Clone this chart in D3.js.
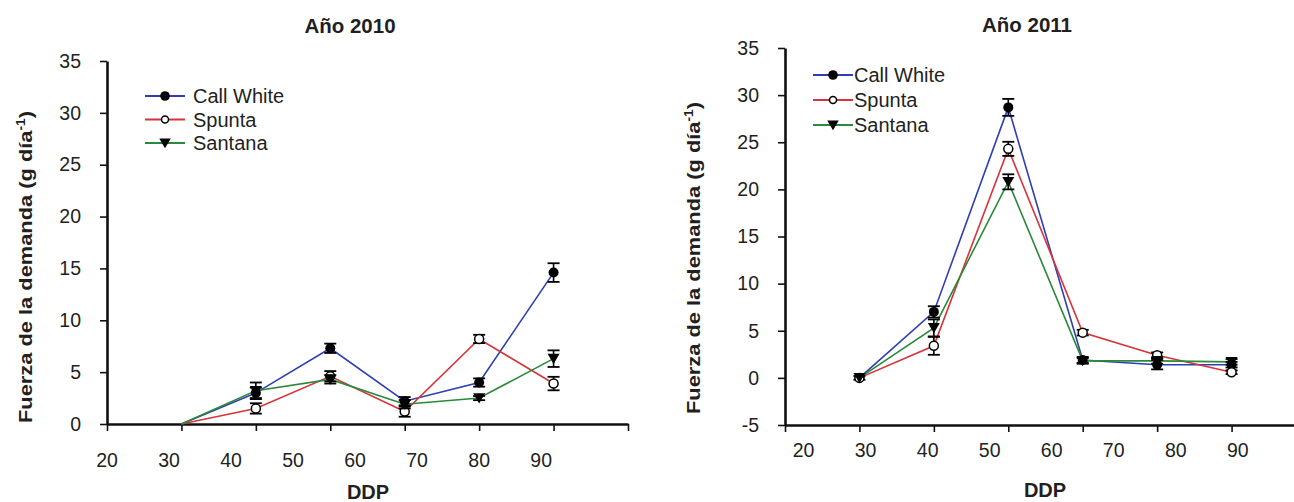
<!DOCTYPE html>
<html>
<head>
<meta charset="utf-8">
<script src="https://cdn.jsdelivr.net/npm/d3@7"></script>
<style>
  body { margin: 0; background: #fff; }
  svg { display: block; font-family: "Liberation Sans", Arial, sans-serif; }
</style>
</head>
<body>
<svg width="1294" height="502"></svg>
<script>
// variedades
const series = ["Call White", "Spunta", "Santana"];
const colors = ["#2f3fb3", "#d8333a", "#2a8a3a"];
const symbols = ["circle", "open", "triangle"];

const xLabels = [20, 30, 40, 50, 60, 70, 80, 90];
const yTicks2010 = [0, 5, 10, 15, 20, 25, 30, 35];
const yTicks2011 = [-5, 0, 5, 10, 15, 20, 25, 30, 35];

// Año 2010
const ddp2010 = [32, 44, 56, 68, 80, 92];
const ticks2010 = [20, 32, 44, 56, 68, 80, 92, 104];
const cw2010 = [0, 3.0, 7.3, 2.2, 4.0, 14.6];
const sp2010 = [0, 1.5, 4.6, 1.2, 8.2, 3.9];
const sa2010 = [0, 3.2, 4.3, 1.9, 2.5, 6.3];
const cwErr2010 = [0, 0.5, 0.45, 0.4, 0.4, 0.9];
const spErr2010 = [0, 0.5, 0.5, 0.5, 0.4, 0.65];
const saErr2010 = [0, 0.8, 0.4, 0.4, 0.2, 0.8];

// Año 2011
const ddp2011 = [29, 41, 53, 65, 77, 89];
const ticks2011 = [17, 29, 41, 53, 65, 77, 89, 101];
const cw2011 = [0, 7.0, 28.7, 1.9, 1.4, 1.4];
const sp2011 = [0, 3.4, 24.3, 4.8, 2.4, 0.6];
const sa2011 = [0, 5.3, 20.8, 1.8, 1.8, 1.7];
const cwErr2011 = [0.2, 0.6, 0.9, 0.3, 0.5, 0.3];
const spErr2011 = [0.1, 0.95, 0.75, 0.3, 0.3, 0.2];
const saErr2011 = [0.1, 0.9, 0.8, 0.3, 0.3, 0.3];

const svg = d3.select("svg");
const ink = "#231f20";

function drawMarker(g, type, x, y, size) {
    if (type == "circle") {
        g.append("circle").attr("cx", x).attr("cy", y).attr("r", size)
            .attr("fill", "#000");
    } else if (type == "open") {
        g.append("circle").attr("cx", x).attr("cy", y).attr("r", size - 0.5)
            .attr("fill", "#fff").attr("stroke", "#000").attr("stroke-width", 1.5);
    } else {
        const s = size * 1.2;
        g.append("path")
            .attr("d", `M${x - s},${y - s * 0.8}L${x + s},${y - s * 0.8}L${x},${y + s * 0.9}Z`)
            .attr("fill", "#000");
    }
}

function drawPanel(cfg) {
    const x = d3.scaleLinear().domain(cfg.xDomain).range(cfg.xRange);
    const y = d3.scaleLinear().domain(cfg.yDomain).range(cfg.yRange);
    const g = svg.append("g");

    // titulo
    g.append("text").attr("x", cfg.titleX).attr("y", cfg.titleY)
        .attr("text-anchor", "middle").attr("font-weight", "bold")
        .attr("font-size", 20.5).attr("fill", ink).text(cfg.title);

    // eje y
    const yAxis = g.append("g")
        .attr("transform", `translate(${cfg.xRange[0]},0)`)
        .call(d3.axisLeft(y).tickValues(cfg.yTicks).tickFormat(d => String(d))
            .tickSize(7).tickSizeOuter(0).tickPadding(19));
    yAxis.select(".domain").attr("stroke", "#111").attr("stroke-width", 2.6);
    yAxis.selectAll(".tick line").attr("stroke", "#111").attr("stroke-width", 1.6);
    yAxis.selectAll(".tick text").attr("font-size", 19.5).attr("fill", ink)
        .attr("font-family", "Liberation Sans, Arial, sans-serif");

    // eje x: marcas en los dias de muestreo, etiquetas aparte
    const xAxis = g.append("g")
        .attr("transform", `translate(0,${cfg.yRange[0]})`)
        .call(d3.axisBottom(x).tickValues(cfg.ticks).tickFormat("").tickSize(7).tickSizeOuter(0));
    xAxis.select(".domain").attr("stroke", "#111").attr("stroke-width", 2.6);
    xAxis.selectAll(".tick line").attr("stroke", "#111").attr("stroke-width", 1.6);

    g.selectAll(".xlab").data(xLabels).join("text")
        .attr("x", d => x(d)).attr("y", cfg.yRange[0] + cfg.xLabelDy)
        .attr("text-anchor", "middle").attr("font-size", 19.5).attr("fill", ink)
        .text(d => d);

    g.append("text").attr("x", cfg.ddpX).attr("y", cfg.ddpY)
        .attr("text-anchor", "middle").attr("font-weight", "bold")
        .attr("font-size", 20).attr("fill", ink).text("DDP");

    // etiqueta del eje y
    const yl = g.append("text")
        .attr("transform", `translate(${cfg.ylabX},${cfg.ylabY}) rotate(-90)`)
        .attr("text-anchor", "middle").attr("font-weight", "bold")
        .attr("font-size", 19).attr("fill", ink)
        .attr("textLength", 312).attr("lengthAdjust", "spacingAndGlyphs");
    yl.append("tspan").text("Fuerza de la demanda (g día");
    yl.append("tspan").attr("font-size", 12).attr("dy", -7).text("-1");
    yl.append("tspan").attr("dy", 7).text(")");

    // lineas
    const line = d3.line().x(d => x(d.x)).y(d => y(d.y));
    cfg.values.forEach((vals, i) => {
        const pts = cfg.ddp.map((d, k) => ({ x: d, y: vals[k] }));
        g.append("path").attr("d", line(pts))
            .attr("fill", "none").attr("stroke", colors[i]).attr("stroke-width", 1.6);
    });

    // barras de error y marcadores
    cfg.values.forEach((vals, i) => {
        cfg.ddp.forEach((d, k) => {
            if (k == 0 && !cfg.showFirst) return;
            const e = cfg.errs[i][k];
            const px = x(d);
            if (e > 0.15) {
                const y0 = y(vals[k] - e), y1 = y(vals[k] + e);
                g.append("line").attr("x1", px).attr("x2", px).attr("y1", y0).attr("y2", y1)
                    .attr("stroke", "#000").attr("stroke-width", 1.6);
                [y0, y1].forEach(yy => g.append("line")
                    .attr("x1", px - 6).attr("x2", px + 6).attr("y1", yy).attr("y2", yy)
                    .attr("stroke", "#000").attr("stroke-width", 1.8));
            }
            drawMarker(g, symbols[i], px, y(vals[k]), 5);
        });
    });

    // leyenda
    series.forEach((s, i) => {
        const ly = cfg.legY + i * cfg.legStep;
        g.append("line").attr("x1", cfg.legX).attr("x2", cfg.legX + 40)
            .attr("y1", ly).attr("y2", ly)
            .attr("stroke", colors[i]).attr("stroke-width", 1.8);
        drawMarker(g, symbols[i], cfg.legX + 20, ly, i == 1 ? 4 : 4.8);
        g.append("text").attr("x", cfg.legTextX).attr("y", ly + 7)
            .attr("font-size", 20).attr("fill", ink).text(s);
    });
}

drawPanel({
    title: "Año 2010", titleX: 350, titleY: 33,
    xDomain: [20, 104], xRange: [107, 628],
    yDomain: [0, 35], yRange: [424, 61], yTicks: yTicks2010,
    ticks: ticks2010, ddp: ddp2010, xLabelDy: 43,
    ddpX: 368, ddpY: 499,
    ylabX: 32, ylabY: 267,
    values: [cw2010, sp2010, sa2010],
    errs: [cwErr2010, spErr2010, saErr2010],
    showFirst: false,
    legX: 145, legTextX: 193, legY: 96, legStep: 23.5
});

drawPanel({
    title: "Año 2011", titleX: 1027, titleY: 32,
    xDomain: [17, 101], xRange: [785, 1306],
    yDomain: [-5, 35], yRange: [425, 48], yTicks: yTicks2011,
    ticks: ticks2011, ddp: ddp2011, xLabelDy: 32,
    ddpX: 1045, ddpY: 497,
    ylabX: 700, ylabY: 258,
    values: [cw2011, sp2011, sa2011],
    errs: [cwErr2011, spErr2011, saErr2011],
    showFirst: true,
    legX: 813, legTextX: 854, legY: 75, legStep: 25
});
</script>
</body>
</html>
